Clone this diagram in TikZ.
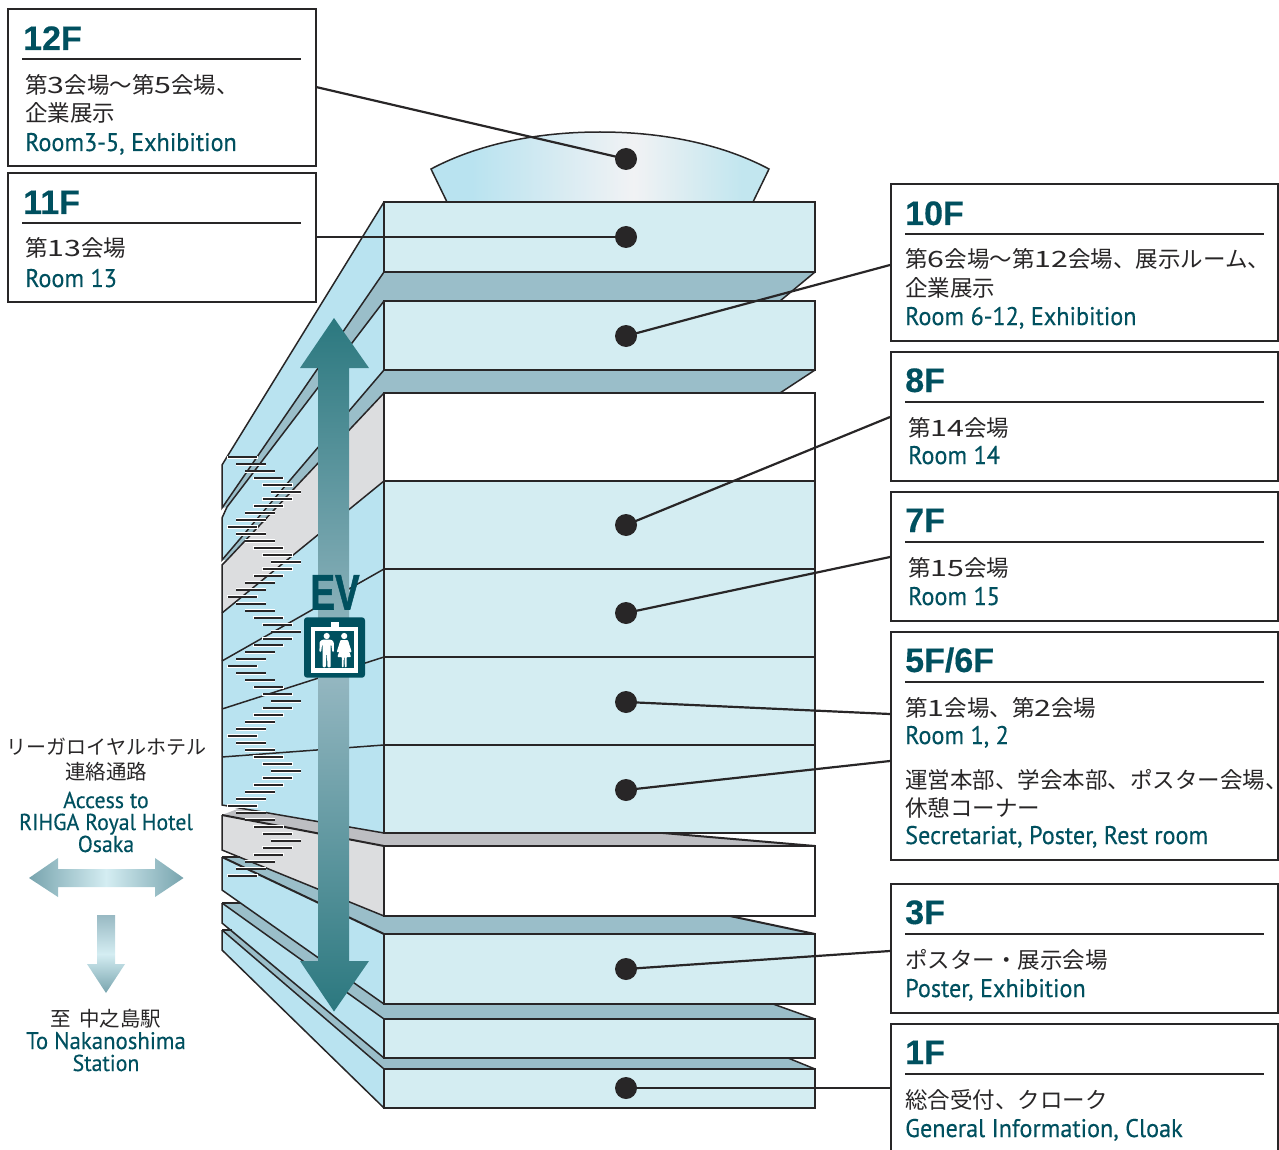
\documentclass[tikz,border=0pt]{standalone}
\usepackage{fontspec}
\usepackage{graphicx}
\newfontfamily\jpf{Noto Sans CJK JP}
\newfontfamily\jdf{Noto Sans CJK JP}[FakeStretch=1.35]
\newfontfamily\enf{PT Sans}[FakeStretch=0.95,FakeBold=0.3]
\newfontfamily\hdf{Liberation Sans}[BoldFont={Liberation Sans Bold},BoldFeatures={FakeBold=0.3}]
\newfontfamily\evf{Liberation Sans Bold}[FakeBold=1.2]
\newcommand{\dg}[1]{{\jdf #1}}
\definecolor{ink}{HTML}{282627}
\definecolor{teal}{HTML}{00505F}
\definecolor{facec}{HTML}{D4EDF2}
\definecolor{sidec}{HTML}{B9E3F0}
\definecolor{bandc}{HTML}{9ABEC9}
\definecolor{wallc}{HTML}{DCDDDF}
\definecolor{slabc}{HTML}{BDBEC2}
\definecolor{arrd}{HTML}{2B787F}
\definecolor{arrm}{HTML}{98B9C3}
\definecolor{arrl}{HTML}{D4EDF2}
\definecolor{arre}{HTML}{78A4AE}
\definecolor{domec}{HTML}{F1F2F4}
\definecolor{domer}{HTML}{C2E6EF}
\pgfdeclarehorizontalshading{domesh}{100bp}{color(0bp)=(sidec); color(31bp)=(sidec); color(55bp)=(domec); color(71bp)=(domer); color(100bp)=(domer)}
\tikzset{
  boxst/.style={draw=ink,line width=2pt,fill=white,anchor=north west,inner sep=0pt,outer sep=0pt},
  headst/.style={anchor=base west,inner sep=0pt,text=teal,font=\hdf\bfseries\fontsize{34}{34}\selectfont},
  jpst/.style={anchor=base west,inner sep=0pt,text=ink,font=\jpf\fontsize{22.5}{22.5}\selectfont},
  enst/.style={anchor=base west,inner sep=0pt,text=teal,font=\enf\fontsize{25.5}{25.5}\selectfont},
  jpc/.style={anchor=base,inner sep=0pt,text=ink,font=\jpf\fontsize{20.5}{20.5}\selectfont},
  enc/.style={anchor=base,inner sep=0pt,text=teal,font=\enf\fontsize{23}{23}\selectfont},
  rulest/.style={draw=ink,line width=1.7pt},
  edge/.style={draw=ink,line width=1.5pt},
  thick edge/.style={draw=ink,line width=2pt},
  face/.style={fill=facec,draw=ink,line width=2pt},
  blank/.style={fill=white,draw=ink,line width=2pt},
  side/.style={fill=sidec},
  band/.style={fill=bandc},
  wall/.style={fill=wallc},
  slab/.style={fill=slabc},
  leader/.style={draw=ink,line width=2.2pt},
  dotst/.style={circle,fill=ink,minimum size=22pt,inner sep=0pt,outer sep=0pt},
}
\begin{document}
\begin{tikzpicture}[x=1pt,y=-1pt]
\useasboundingbox (0,0) rectangle (1279,1150);
% dome
\path[shading=domesh,draw=ink,line width=1.5pt]
  (447,202) -- (431,169) .. controls (480,143) and (540,132) .. (600,132)
  .. controls (660,132) and (720,143) .. (769,169) -- (753,202) -- cycle;
% left side surfaces
\fill[side] (384,202) -- (222,465) -- (222,508) -- (384,272) -- cycle;
\fill[band] (222,508) -- (384,272) -- (384,301) -- (227,507) -- cycle;
\fill[side] (384,301) -- (227,507) -- (222,518) -- (222,560) -- (384,370) -- cycle;
\fill[band] (222,560) -- (384,370) -- (384,393) -- (227,560) -- cycle;
\fill[wall] (384,393) -- (227,560) -- (222,565) -- (222,613) -- (384,481) -- cycle;
\fill[side] (384,481) -- (222,613) -- (222,805) -- (384,833) -- cycle;
\fill[slab] (240,808) -- (222,815) -- (384,846) -- (384,833) -- cycle;
\fill[wall] (222,815) -- (384,846) -- (384,916) -- (222,850) -- cycle;
\fill[band] (222,857) -- (384,934) -- (384,916) -- (240,857) -- cycle;
\fill[side] (222,857) -- (222,890) -- (384,1004) -- (384,934) -- cycle;
\fill[band] (222,903) -- (384,1019) -- (384,1004) -- (240,903) -- cycle;
\fill[side] (222,903) -- (222,923) -- (384,1058) -- (384,1019) -- cycle;
\fill[band] (222,930) -- (384,1069) -- (384,1058) -- (232,930) -- cycle;
\fill[side] (222,930) -- (222,950) -- (384,1108) -- (384,1069) -- cycle;
% side edges
\draw[edge] (384,202) -- (222,465) -- (222,508) -- (384,272);
\draw[edge] (227,507) -- (384,301);
\draw[edge] (227,507) -- (222,518) -- (222,560) -- (384,370);
\draw[edge] (227,560) -- (384,393);
\draw[edge] (227,560) -- (222,565) -- (222,805) -- (384,833);
\draw[edge] (222,613) -- (384,481);
\draw[edge] (222,661) -- (384,569);
\draw[edge] (222,709) -- (384,657);
\draw[edge] (222,757) -- (384,745);
\draw[thick edge] (222,815) -- (384,846);
\draw[edge] (222,815) -- (222,850) -- (384,916);
\draw[thick edge] (222,857) -- (384,934);
\draw[thick edge] (222,857) -- (240,857);
\draw[edge] (222,857) -- (222,890) -- (384,1004);
\draw[thick edge] (222,903) -- (240,903);
\draw[edge] (222,903) -- (384,1019);
\draw[edge] (222,903) -- (222,923) -- (384,1058);
\draw[edge] (222,930) -- (232,930);
\draw[edge] (222,930) -- (384,1069);
\draw[edge] (222,930) -- (222,950) -- (384,1108);
% front slabs
\fill[band] (384,272) -- (815,272) -- (780,301) -- (384,301) -- cycle;
\fill[band] (384,370) -- (815,370) -- (780,393) -- (384,393) -- cycle;
\fill[slab] (384,833) -- (663,833) -- (815,846) -- (384,846) -- cycle;
\fill[band] (384,916) -- (730,916) -- (815,934) -- (384,934) -- cycle;
\fill[band] (384,1004) -- (773,1004) -- (815,1019) -- (384,1019) -- cycle;
\fill[band] (384,1058) -- (788,1058) -- (815,1069) -- (384,1069) -- cycle;
\draw[edge] (815,272) -- (780,301);
\draw[edge] (815,370) -- (780,393);
\draw[thick edge] (663,833) -- (815,846);
\draw[thick edge] (730,916) -- (815,934);
\draw[edge] (773,1004) -- (815,1019);
\draw[edge] (788,1058) -- (815,1069);
% front faces
\draw[face] (384,202) rectangle (815,272);
\draw[face] (384,301) rectangle (815,370);
\draw[blank] (384,393) rectangle (815,481);
\draw[face] (384,481) rectangle (815,569);
\draw[face] (384,569) rectangle (815,657);
\draw[face] (384,657) rectangle (815,745);
\draw[face] (384,745) rectangle (815,833);
\draw[blank] (384,846) rectangle (815,916);
\draw[face] (384,934) rectangle (815,1004);
\draw[face] (384,1019) rectangle (815,1058);
\draw[face] (384,1069) rectangle (815,1108);
% stairs
\foreach \i in {0,...,60}{
  \pgfmathsetmacro{\dx}{227.7+8.7*(5-abs(mod(\i,10)-5))}
  \pgfmathsetmacro{\dy}{457.3+6.97*\i}
  \draw[white,line width=3.4pt] (\dx-0.5,\dy) -- ++(30.5,0);
  \draw[ink,line width=2pt] (\dx,\dy) -- ++(29.5,0);
}
% elevator arrow
\shade[top color=arrd,bottom color=arrd,middle color=arrm]
  (334,318) -- (369,368) -- (349,368) -- (349,961) -- (369,961) -- (334,1011.5)
  -- (300,961) -- (318,961) -- (318,368) -- (300,368) -- cycle;
\node[anchor=base,inner sep=0pt,text=teal,font=\evf\fontsize{50}{50}\selectfont] (ev) at (335,609.5) {\scalebox{0.74}[1]{EV}};
\fill[teal,rounded corners=3pt] (304,617.3) rectangle (365,677.7);
\fill[white] (311.3,626.7) rectangle (358.3,673);
\fill[white] (330.7,622.3) rectangle (338.7,627);
\fill[teal] (315.3,631.3) rectangle (354,668.3);
\fill[white] (326.7,636) circle (3.1);
\fill[white,rounded corners=1pt] (319.4,652) -- (319.7,641.5) -- (322.5,639.6) -- (330.9,639.6) -- (333.7,641.5) -- (334,652) -- (332.3,652) -- (331.3,644.5) -- (330.7,644.5) -- (330.7,667.3) -- (327.5,667.3) -- (327,654) -- (326.4,654) -- (325.9,667.3) -- (322.7,667.3) -- (322.7,644.5) -- (322.1,644.5) -- (321.1,652) -- cycle;
\fill[white] (344.2,636) circle (3.1);
\fill[white,rounded corners=0.8pt] (336.7,652) -- (340.5,640) -- (347.9,640) -- (351.7,652) -- (350,652.5) -- (347.2,645) -- (351,657) -- (346.5,657) -- (346.5,667.3) -- (344.8,667.3) -- (344.6,657) -- (343.8,657) -- (343.6,667.3) -- (341.9,667.3) -- (341.9,657) -- (337.4,657) -- (341.2,645) -- (338.4,652.5) -- cycle;
% left arrows
\shade[left color=arre,right color=arre,middle color=arrl]
  (29,878) -- (58,858) -- (58,869) -- (155,869) -- (155,858) -- (183.5,878)
  -- (155,897) -- (155,887) -- (58,887) -- (58,897) -- cycle;
\shade[top color=arrm,bottom color=arre,middle color=arrl]
  (97,915) -- (115,915) -- (115,964) -- (125,964) -- (106,993) -- (87,964) -- (97,964) -- cycle;
% left text
\node[jpc,font=\jpf\fontsize{20}{20}\selectfont] (t1) at (106.5,754) {リーガロイヤルホテル};
\node[jpc] (t2) at (106,779) {連絡通路};
\node[enc] (t3) at (106,808) {Access to};
\node[enc] (t4) at (106,830) {RIHGA Royal Hotel};
\node[enc] (t5) at (106,852) {Osaka};
\node[jpc] (t6) at (106,1026) {至\hspace{0.4em}中之島駅};
\node[enc,font=\enf\fontsize{24}{24}\selectfont] (t7) at (106,1049) {To Nakanoshima};
\node[enc] (t8) at (106,1071) {Station};
% boxes
\node[boxst,minimum width=307.5pt,minimum height=157pt] (b12) at (8,9) {};
\node[boxst,minimum width=307.5pt,minimum height=129pt] (b11) at (8,173) {};
\node[boxst,minimum width=387.5pt,minimum height=157pt] (b10) at (890.5,184) {};
\node[boxst,minimum width=387.5pt,minimum height=129pt] (b8) at (890.5,352) {};
\node[boxst,minimum width=387.5pt,minimum height=129pt] (b7) at (890.5,492) {};
\node[boxst,minimum width=387.5pt,minimum height=228pt] (b5) at (890.5,632) {};
\node[boxst,minimum width=387.5pt,minimum height=129pt] (b3) at (890.5,884) {};
\node[boxst,minimum width=387.5pt,minimum height=135pt] (b1) at (890.5,1024) {};
% box rules
\coordinate (r12a) at (22,59); \coordinate (r12b) at (301,59);
\coordinate (r11a) at (22,223); \coordinate (r11b) at (301,223);
\coordinate (r10a) at (905,234); \coordinate (r10b) at (1264,234);
\coordinate (r8a) at (905,402); \coordinate (r8b) at (1264,402);
\coordinate (r7a) at (905,542); \coordinate (r7b) at (1264,542);
\coordinate (r5a) at (905,682); \coordinate (r5b) at (1264,682);
\coordinate (r3a) at (905,934); \coordinate (r3b) at (1264,934);
\coordinate (r1a) at (905,1074); \coordinate (r1b) at (1264,1074);
\foreach \n in {12,11,10,8,7,5,3,1}{\draw[rulest] (r\n a) -- (r\n b);}
% box text
\node[headst] (h12) at (23,50) {12F};
\node[jpst] (j12a) at (25,94) {第\dg{3}会場～第\dg{5}会場、};
\node[jpst] (j12b) at (25,122) {企業展示};
\node[enst] (e12) at (25,151) {Room3-5, Exhibition};
\node[headst] (h11) at (23,214) {11F};
\node[jpst] (j11) at (25,257) {第\dg{13}会場};
\node[enst] (e11) at (25,287) {Room 13};
\node[headst] (h10) at (905,225) {10F};
\node[jpst] (j10a) at (905,268) {第\dg{6}会場～第\dg{12}会場、展示ルーム、};
\node[jpst] (j10b) at (905,296) {企業展示};
\node[enst] (e10) at (905,325) {Room 6-12, Exhibition};
\node[headst] (h8) at (905,392) {8F};
\node[jpst] (j8) at (908,436) {第\dg{14}会場};
\node[enst] (e8) at (908,464) {Room 14};
\node[headst] (h7) at (905,532) {7F};
\node[jpst] (j7) at (908,576) {第\dg{15}会場};
\node[enst] (e7) at (908,605) {Room 15};
\node[headst] (h5) at (905,672) {5F/6F};
\node[jpst] (j5a) at (905,716) {第\dg{1}会場、第\dg{2}会場};
\node[enst] (e5a) at (905,744) {Room 1, 2};
\node[jpst] (j5b) at (905,788) {運営本部、学会本部、ポスター会場、};
\node[jpst] (j5c) at (905,816) {休憩コーナー};
\node[enst] (e5b) at (905,844) {Secretariat, Poster, Rest room};
\node[headst] (h3) at (905,924) {3F};
\node[jpst] (j3) at (905,968) {ポスター・展示会場};
\node[enst] (e3) at (905,997) {Poster, Exhibition};
\node[headst] (h1) at (905,1064) {1F};
\node[jpst] (j1) at (905,1108) {総合受付、クローク};
\node[enst] (e1) at (905,1137) {General Information, Cloak};
% dots and leaders
\node[dotst] (d12) at (626,159) {};
\node[dotst] (d11) at (626,237) {};
\node[dotst] (d10) at (626,336) {};
\node[dotst] (d8) at (626,525) {};
\node[dotst] (d7) at (626,613) {};
\node[dotst] (d6) at (626,702) {};
\node[dotst] (d5) at (626,790) {};
\node[dotst] (d3) at (626,969) {};
\node[dotst] (d1) at (626,1088) {};
\coordinate (c12) at (316,87);
\coordinate (c11) at (316,237);
\coordinate (c10) at (890,265);
\coordinate (c8) at (890,417);
\coordinate (c7) at (890,557);
\coordinate (c6) at (890,714);
\coordinate (c5) at (890,761);
\coordinate (c3) at (890,951);
\coordinate (c1) at (890,1088);
\foreach \n in {12,11,10,8,7,6,5,3,1}{\draw[leader] (c\n) -- (d\n.center);}
\end{tikzpicture}
\end{document}
